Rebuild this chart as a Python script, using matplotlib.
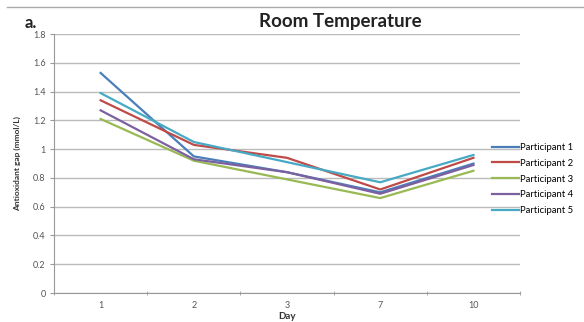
import matplotlib
matplotlib.use("Agg")
import matplotlib.pyplot as plt
from matplotlib.lines import Line2D

plt.rcParams['font.family'] = ['Lato', 'DejaVu Sans']

days = ["1", "2", "3", "7", "10"]
series_names = ["Participant 1", "Participant 2", "Participant 3", "Participant 4", "Participant 5"]
p1 = [1.53, 0.95, 0.84, 0.70, 0.90]
p2 = [1.34, 1.03, 0.94, 0.72, 0.94]
p3 = [1.21, 0.92, 0.79, 0.66, 0.85]
p4 = [1.27, 0.93, 0.84, 0.69, 0.89]
p5 = [1.39, 1.05, 0.91, 0.77, 0.96]
colors = ["#4A7EBB", "#BE4B48", "#98B954", "#7D60A0", "#46AAC5"]
yticks = [0, 0.2, 0.4, 0.6, 0.8, 1, 1.2, 1.4, 1.6, 1.8]

fig = plt.figure(figsize=(5.84, 3.22), dpi=100)
ax = fig.add_axes([0.0925, 0.090, 0.798, 0.804])
x = list(range(len(days)))
for vals, name, c in zip([p1, p2, p3, p4, p5], series_names, colors):
    ax.plot(x, vals, color=c, lw=1.6, label=name)

ax.set_xlim(-0.5, len(days) - 0.5)
ax.set_ylim(0, 1.8)
ax.set_yticks(yticks)
ax.set_yticklabels([f"{v:g}" for v in yticks], fontsize=6.5, color="#555555")
ax.set_xticks(x)
ax.set_xticklabels(days, fontsize=6.5, color="#555555")
ax.set_xticks([i + 0.5 for i in range(-1, len(days))], minor=True)
ax.tick_params(axis="x", which="major", length=0, pad=6)
ax.tick_params(axis="x", which="minor", length=3, direction="inout", color="#999999")
ax.tick_params(axis="y", length=3, direction="out", color="#999999", pad=3)
ax.grid(axis="y", color="#BBBBBB", lw=1)
ax.set_axisbelow(True)
for s in ["top", "right"]:
    ax.spines[s].set_visible(False)
ax.spines["left"].set_color("#999999")
ax.spines["bottom"].set_color("#999999")

ax.set_xlabel("Day", fontsize=7, fontweight="bold", labelpad=1, color="#333333")
ax.set_ylabel("Antioxidant gap (mmol/L)", fontsize=6, fontweight="bold", color="#333333", labelpad=9)
fig.text(0.582, 0.932, "Room Temperature", fontsize=13.5, fontweight="bold", ha="center", va="center", color="#222222")
fig.text(0.042, 0.928, "a.", fontsize=12, fontweight="bold", ha="left", va="center", color="#222222")

fig.legend(loc="center left", bbox_to_anchor=(0.842, 0.444), frameon=False, fontsize=6.8,
           handlelength=2.9, handletextpad=0.1, labelspacing=0.72, borderaxespad=0, borderpad=0)
fig.add_artist(Line2D([0.012, 1.0], [0.978, 0.978], color="#AAAAAA", lw=1))

fig.savefig("out.png", dpi=100)
